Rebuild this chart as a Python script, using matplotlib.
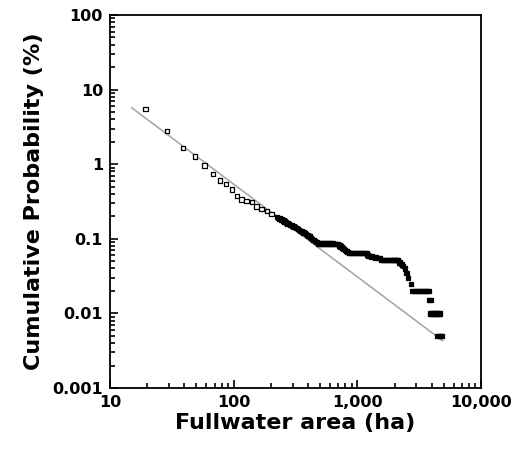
import matplotlib
matplotlib.use("Agg")
import matplotlib.pyplot as plt
from matplotlib.ticker import FixedLocator, LogLocator, NullFormatter

# Observed data: fullwater area (ha) vs cumulative probability (%)
area_ha = [19.4, 29, 39, 48.6, 58, 68, 77.5, 86.7, 96.8, 107, 116, 127, 141,
           153, 168, 185, 203,
           223, 229, 235, 243, 252, 258, 265, 272, 280, 288, 297, 305, 313, 321, 330, 339,
           348, 357, 366, 375, 385, 392, 400, 407, 414, 423, 432, 443, 455, 468, 483,
           495, 510, 525, 540, 555, 570, 585, 600, 615, 630, 647, 665, 683, 701,
           710, 720, 733, 747, 760, 775, 792, 810, 827, 844, 857,
           871, 895, 920, 945, 970, 995, 1020, 1047, 1075, 1100, 1130, 1160, 1190,
           1207, 1225, 1260, 1300, 1350, 1400, 1460, 1524,
           1572, 1610, 1650, 1690, 1730, 1775, 1820, 1865, 1910, 1955, 2000, 2035, 2070, 2105, 2143,
           2200, 2250, 2300, 2350, 2430,
           2500, 2575, 2710,
           2800, 2900, 3000, 3100, 3200, 3300, 3400, 3500, 3600, 3700, 3800,
           3800, 3900,
           3850, 3950, 4050, 4150, 4250, 4350, 4450, 4550, 4650,
           4450, 4550, 4650, 4750, 4850]
cum_prob = [5.5, 2.8, 1.65, 1.27, 0.96, 0.74, 0.605, 0.547, 0.458, 0.372, 0.336, 0.324, 0.31,
            0.27, 0.252, 0.234, 0.216,
            0.195, 0.190, 0.186, 0.181, 0.176, 0.171, 0.166, 0.161, 0.157, 0.153, 0.150, 0.146, 0.143, 0.139, 0.135, 0.131,
            0.128, 0.125, 0.122, 0.119, 0.116, 0.113, 0.111, 0.109, 0.107, 0.103, 0.100, 0.096, 0.093, 0.090, 0.087,
            0.087, 0.087, 0.087, 0.087, 0.087, 0.087, 0.086, 0.086, 0.086, 0.086, 0.085, 0.085, 0.085, 0.085,
            0.083, 0.081, 0.079, 0.077, 0.075, 0.073, 0.071, 0.069, 0.0675, 0.066, 0.065,
            0.064, 0.064, 0.064, 0.064, 0.064, 0.064, 0.064, 0.064, 0.064, 0.064, 0.064, 0.064, 0.064,
            0.061, 0.059, 0.0585, 0.058, 0.057, 0.056, 0.0556, 0.0553,
            0.052, 0.052, 0.052, 0.052, 0.052, 0.052, 0.052, 0.052, 0.052, 0.052, 0.052, 0.052, 0.052, 0.052, 0.052,
            0.048, 0.046, 0.045, 0.043, 0.040,
            0.035, 0.030, 0.025,
            0.020, 0.020, 0.020, 0.020, 0.020, 0.020, 0.020, 0.020, 0.020, 0.020, 0.020,
            0.015, 0.015,
            0.010, 0.010, 0.010, 0.010, 0.010, 0.010, 0.010, 0.010, 0.010,
            0.005, 0.005, 0.005, 0.005, 0.005]

# Fitted power-law line endpoints
fit_x = [15, 4900]
fit_y = [5.7, 0.0043]

x_ticks = [10, 100, 1000, 10000]
x_tick_labels = ["10", "100", "1,000", "10,000"]
y_ticks = [0.001, 0.01, 0.1, 1, 10, 100]
y_tick_labels = ["0.001", "0.01", "0.1", "1", "10", "100"]

plt.rcParams['font.family'] = ['DejaVu Sans']
fig = plt.figure(figsize=(5.14, 4.57), dpi=100)
ax = fig.add_axes([110/514, 1-388/457, (481-110)/514, (388-15)/457])

ax.plot(fit_x, fit_y, color="#a8a8a8", lw=1.2, zorder=2)

# where markers pile up they print as solid black
faces = ["black" if a >= 220 else "white" for a in area_ha]
ax.scatter(area_ha, cum_prob, marker="s", s=10, facecolors=faces,
           edgecolors="black", linewidths=0.9, zorder=3)

ax.set_xscale("log")
ax.set_yscale("log")
ax.set_xlim(10, 10000)
ax.set_ylim(0.001, 100)

ax.xaxis.set_major_locator(FixedLocator(x_ticks))
ax.set_xticklabels(x_tick_labels)
ax.yaxis.set_major_locator(FixedLocator(y_ticks))
ax.set_yticklabels(y_tick_labels)
ax.xaxis.set_minor_locator(LogLocator(base=10, subs=range(2, 10)))
ax.yaxis.set_minor_locator(LogLocator(base=10, subs=range(2, 10)))
ax.xaxis.set_minor_formatter(NullFormatter())
ax.yaxis.set_minor_formatter(NullFormatter())

ax.tick_params(which="both", direction="in", top=False, right=False, width=1.2)
ax.tick_params(which="major", length=6, labelsize=11.5, pad=5)
ax.tick_params(which="minor", length=3.5)
for lab in ax.get_xticklabels() + ax.get_yticklabels():
    lab.set_fontweight("bold")
for sp in ax.spines.values():
    sp.set_linewidth(1.3)

ax.set_xlabel("Fullwater area (ha)", fontsize=16, fontweight="bold", labelpad=2)
ax.set_ylabel("Cumulative Probability (%)", fontsize=16, fontweight="bold", labelpad=6)

fig.savefig("out.png", dpi=100)
